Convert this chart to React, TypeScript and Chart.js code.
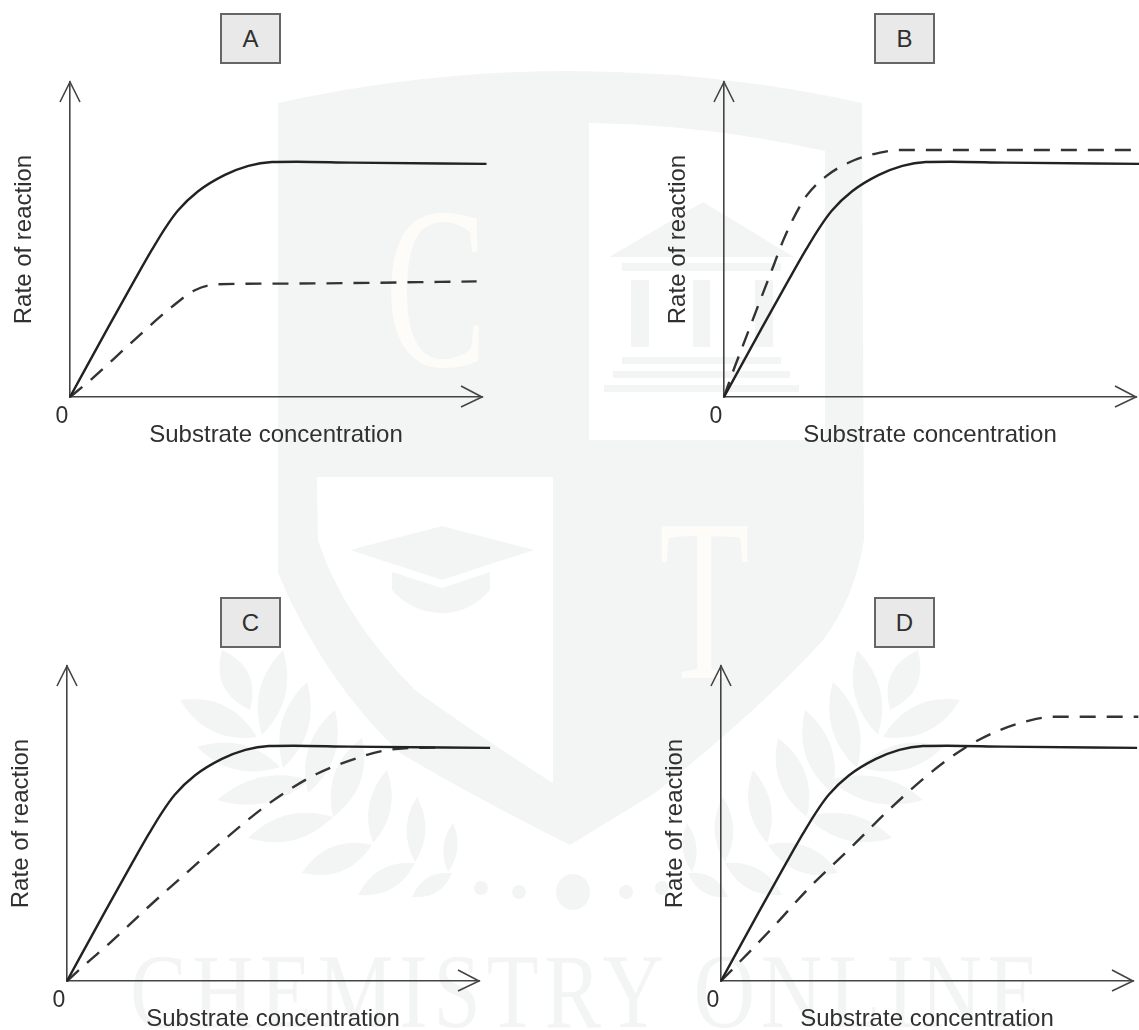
import React, { useEffect, useRef } from "react";
import { Chart, registerables } from "chart.js";

Chart.register(...registerables);

const panelNames = ["A", "B", "C", "D"];
const xAxisTitle = "Substrate concentration";
const yAxisTitle = "Rate of reaction";
const watermarkTitle = "CHEMISTRY ONLINE";

const solidX = [0, 9.3, 15.8, 20, 23, 26.2, 31.1, 37.6, 43.3, 49, 55, 68.4];
const solidY = [0, 22.2, 37.4, 47, 53.4, 59.2, 65.3, 70.5, 73.4, 74.6, 74.7, 74.4];

const solidEndA = [101.1, 74];
const solidEndB = [101, 74];
const solidEndC = [102.7, 74];
const solidEndD = [101, 74];

const dashedAX = [0, 4.9, 14.6, 24.7, 30.3, 36, 51.4, 98.7];
const dashedAY = [0, 5.3, 16.9, 28.6, 33.9, 35.8, 36, 36.7];

const dashedBX = [0, 2.3, 4.7, 7.5, 10, 12, 14.4, 16.8, 20.1, 24.9, 30.6, 37.9, 42.7, 99];
const dashedBY = [0, 8.5, 16.7, 26.3, 34.8, 41.6, 49.8, 56.6, 64, 70.2, 74.6, 77.6, 78.4, 78.4];

const dashedCX = [0, 4.9, 10.1, 19.4, 29.5, 39.2, 49.4, 60.7, 72.4, 76.5, 82, 92];
const dashedCY = [0, 5.8, 11.7, 23.1, 34.9, 46, 56.7, 65.8, 71.6, 73, 73.9, 74.1];

const dashedDX = [0, 3.6, 12.5, 21.4, 31.1, 40.5, 50.2, 58.7, 67.2, 76.5, 81, 101.3];
const dashedDY = [0, 4.8, 16.9, 29.6, 41.8, 54, 65.4, 73.6, 79.4, 83.2, 83.9, 83.9];

const pairs = (xs: number[], ys: number[]) => xs.map((x, i) => ({ x, y: ys[i] }));

const panelData = [
  { solid: [...pairs(solidX, solidY), { x: solidEndA[0], y: solidEndA[1] }], dashed: pairs(dashedAX, dashedAY) },
  { solid: [...pairs(solidX, solidY), { x: solidEndB[0], y: solidEndB[1] }], dashed: pairs(dashedBX, dashedBY) },
  { solid: [...pairs(solidX, solidY), { x: solidEndC[0], y: solidEndC[1] }], dashed: pairs(dashedCX, dashedCY) },
  { solid: [...pairs(solidX, solidY), { x: solidEndD[0], y: solidEndD[1] }], dashed: pairs(dashedDX, dashedDY) },
];

// layout: origin of each pair of axes on the page, and the name tag above it
const origins = [
  [70, 397],
  [724, 397],
  [67, 981],
  [721, 981],
];
const tags = [
  [220, 13],
  [874, 13],
  [220, 597],
  [874, 597],
];
const AXIS_W = 412;
const FONT = '"Liberation Sans", Arial, sans-serif';
const TEXT = "#303030";
const AXIS = "#444444";

const arrowHeads = {
  id: "arrowHeads",
  afterDraw(chart: any) {
    const { ctx, scales } = chart;
    const ox = scales.x.getPixelForValue(0);
    const oy = scales.y.getPixelForValue(0);
    const tx = scales.x.getPixelForValue(100);
    const ty = scales.y.getPixelForValue(100);
    ctx.save();
    ctx.strokeStyle = AXIS;
    ctx.lineWidth = 1.6;
    ctx.beginPath();
    ctx.moveTo(tx - 21, oy - 11);
    ctx.lineTo(tx, oy);
    ctx.lineTo(tx - 21, oy + 10);
    ctx.moveTo(ox - 10, ty + 20);
    ctx.lineTo(ox, ty);
    ctx.lineTo(ox + 10, ty + 20);
    ctx.stroke();
    ctx.restore();
  },
};

function Panel({ index }: { index: number }) {
  const ref = useRef<HTMLCanvasElement | null>(null);
  const [ox, oy] = origins[index];
  const left = ox - 70;
  const top = oy - 335;
  const width = 570;
  const height = 395;
  useEffect(() => {
    const d = panelData[index];
    const chart = new Chart(ref.current as HTMLCanvasElement, {
      type: "line",
      data: {
        datasets: [
          {
            label: "Solid",
            data: d.solid,
            borderColor: "#222222",
            borderWidth: 2.4,
            pointRadius: 0,
            cubicInterpolationMode: "monotone",
            clip: false,
          },
          {
            label: "Dashed",
            data: d.dashed,
            borderColor: "#333333",
            borderWidth: 2.4,
            borderDash: [16, 11],
            pointRadius: 0,
            cubicInterpolationMode: "monotone",
            clip: false,
          },
        ],
      } as any,
      options: {
        animation: false,
        responsive: false,
        devicePixelRatio: 1,
        layout: { padding: { left: 0, top: 20, right: width - 70 - AXIS_W, bottom: 0 } },
        plugins: { legend: { display: false }, tooltip: { enabled: false } },
        scales: {
          x: {
            type: "linear",
            min: 0,
            max: 100,
            grid: { display: false, drawTicks: false },
            border: { color: AXIS, width: 1.6 },
            afterFit: (s: any) => {
              s.height = 60;
            },
            ticks: {
              stepSize: 100,
              autoSkip: false,
              maxRotation: 0,
              padding: 6,
              labelOffset: -8,
              color: TEXT,
              font: { family: FONT, size: 23 },
              callback: (v: any) => (v === 0 ? "0" : ""),
            },
            title: {
              display: true,
              text: xAxisTitle,
              color: TEXT,
              font: { family: FONT, size: 24 },
              padding: { top: 0, bottom: 7 },
            },
          },
          y: {
            type: "linear",
            min: 0,
            max: 100,
            grid: { display: false, drawTicks: false },
            border: { color: AXIS, width: 1.6 },
            afterFit: (s: any) => {
              s.width = 70;
            },
            ticks: { display: false },
            title: {
              display: true,
              text: yAxisTitle,
              color: TEXT,
              font: { family: FONT, size: 24 },
              padding: { top: 10, bottom: 0 },
            },
          },
        },
      } as any,
      plugins: [arrowHeads],
    });
    return () => chart.destroy();
  }, [index, width]);
  return (
    <canvas
      ref={ref}
      width={width}
      height={height}
      style={{ position: "absolute", left, top, width, height }}
    />
  );
}

const WM = "#f3f5f4";
const CREAM = "#fdfcf8";
const leaves = [
  [222, 650, 250, 710, 28],
  [283, 650, 262, 735, 26],
  [307, 682, 283, 768, 27],
  [335, 710, 308, 793, 27],
  [362, 738, 333, 817, 27],
  [387, 770, 373, 843, 22],
  [417, 797, 415, 862, 19],
  [453, 823, 448, 872, 14],
  [180, 700, 257, 737, 28],
  [197, 747, 280, 767, 26],
  [217, 800, 310, 780, 26],
  [248, 838, 333, 817, 26],
  [302, 873, 372, 845, 26],
  [358, 895, 415, 863, 22],
  [412, 897, 452, 873, 17],
];
const leafPath = ([x1, y1, x2, y2, w]: number[]) => {
  const mx = (x1 + x2) / 2;
  const my = (y1 + y2) / 2;
  const dx = x2 - x1;
  const dy = y2 - y1;
  const len = Math.hypot(dx, dy);
  const nx = (-dy / len) * w;
  const ny = (dx / len) * w;
  return `M${x1},${y1} Q${mx + nx},${my + ny} ${x2},${y2} Q${mx - nx},${my - ny} ${x1},${y1} Z`;
};

function Watermark() {
  return (
    <svg width={1139} height={1030} style={{ position: "absolute", left: 0, top: 0 }}>
      <path
        fill={WM}
        d="M278,103 Q570,39 862,103 L864,540 Q854,600 823,640 Q760,710 655,793 L570,845 Q470,795 400,753 Q323,680 278,573 Z"
      />
      <path
        fill="#ffffff"
        d="M317,477 L553,477 L553,783 Q470,730 415,690 Q343,617 318,540 Z"
      />
      <path fill="#ffffff" d="M589,123 Q710,125 825,151 L825,440 L589,440 Z" />
      <path fill={WM} d="M703,202 L794,257 L609,257 Z" />
      <rect fill={WM} x={622} y={263} width={159} height={8} />
      <rect fill={WM} x={631} y={280} width={18} height={67} />
      <rect fill={WM} x={693} y={280} width={17} height={67} />
      <rect fill={WM} x={755} y={280} width={18} height={67} />
      <rect fill={WM} x={622} y={357} width={159} height={7} />
      <rect fill={WM} x={613} y={371} width={177} height={7} />
      <rect fill={WM} x={604} y={385} width={195} height={7} />
      <path fill={WM} d="M442,526 L534,550 L442,580 L350,550 Z" />
      <path fill={WM} d="M392,572 L442,588 L490,572 L490,590 Q470,613 443,613 Q412,613 392,590 Z" />
      <text
        x={0}
        y={0}
        transform="translate(385,366) scale(0.66,1)"
        fontFamily='"Liberation Serif", serif'
        fontSize={232}
        fill={CREAM}
      >
        C
      </text>
      <text
        x={0}
        y={0}
        transform="translate(659,678) scale(0.64,1)"
        fontFamily='"Liberation Serif", serif'
        fontSize={232}
        fill={CREAM}
      >
        T
      </text>
      {leaves.map((l, i) => (
        <path key={"l" + i} fill={WM} d={leafPath(l)} />
      ))}
      {leaves.map((l, i) => (
        <path key={"r" + i} fill={WM} d={leafPath([1140 - l[0], l[1], 1140 - l[2], l[3], l[4]])} />
      ))}
      <circle cx={481} cy={888} r={7} fill={WM} />
      <circle cx={519} cy={892} r={7} fill={WM} />
      <ellipse cx={573} cy={892} rx={17} ry={18} fill={WM} />
      <circle cx={626} cy={892} r={7} fill={WM} />
      <circle cx={662} cy={888} r={7} fill={WM} />
      <text
        x={0}
        y={0}
        transform="translate(130,1027) scale(0.8,1)"
        textLength={1137}
        lengthAdjust="spacing"
        fontFamily='"Liberation Serif", serif'
        fontSize={106}
        fill={WM}
      >
        {watermarkTitle}
      </text>
    </svg>
  );
}

export default function App() {
  return (
    <div
      style={{
        position: "absolute",
        left: 0,
        top: 0,
        width: 1139,
        height: 1030,
        overflow: "hidden",
        background: "#ffffff",
      }}
    >
      <Watermark />
      {panelNames.map((name, i) => (
        <React.Fragment key={name}>
          <Panel index={i} />
          <div
            style={{
              position: "absolute",
              left: tags[i][0],
              top: tags[i][1],
              width: 61,
              height: 51,
              boxSizing: "border-box",
              border: "2px solid #666666",
              background: "#e9e9e9",
              color: TEXT,
              fontFamily: FONT,
              fontSize: 24,
              lineHeight: "47px",
              textAlign: "center",
            }}
          >
            {name}
          </div>
        </React.Fragment>
      ))}
    </div>
  );
}
